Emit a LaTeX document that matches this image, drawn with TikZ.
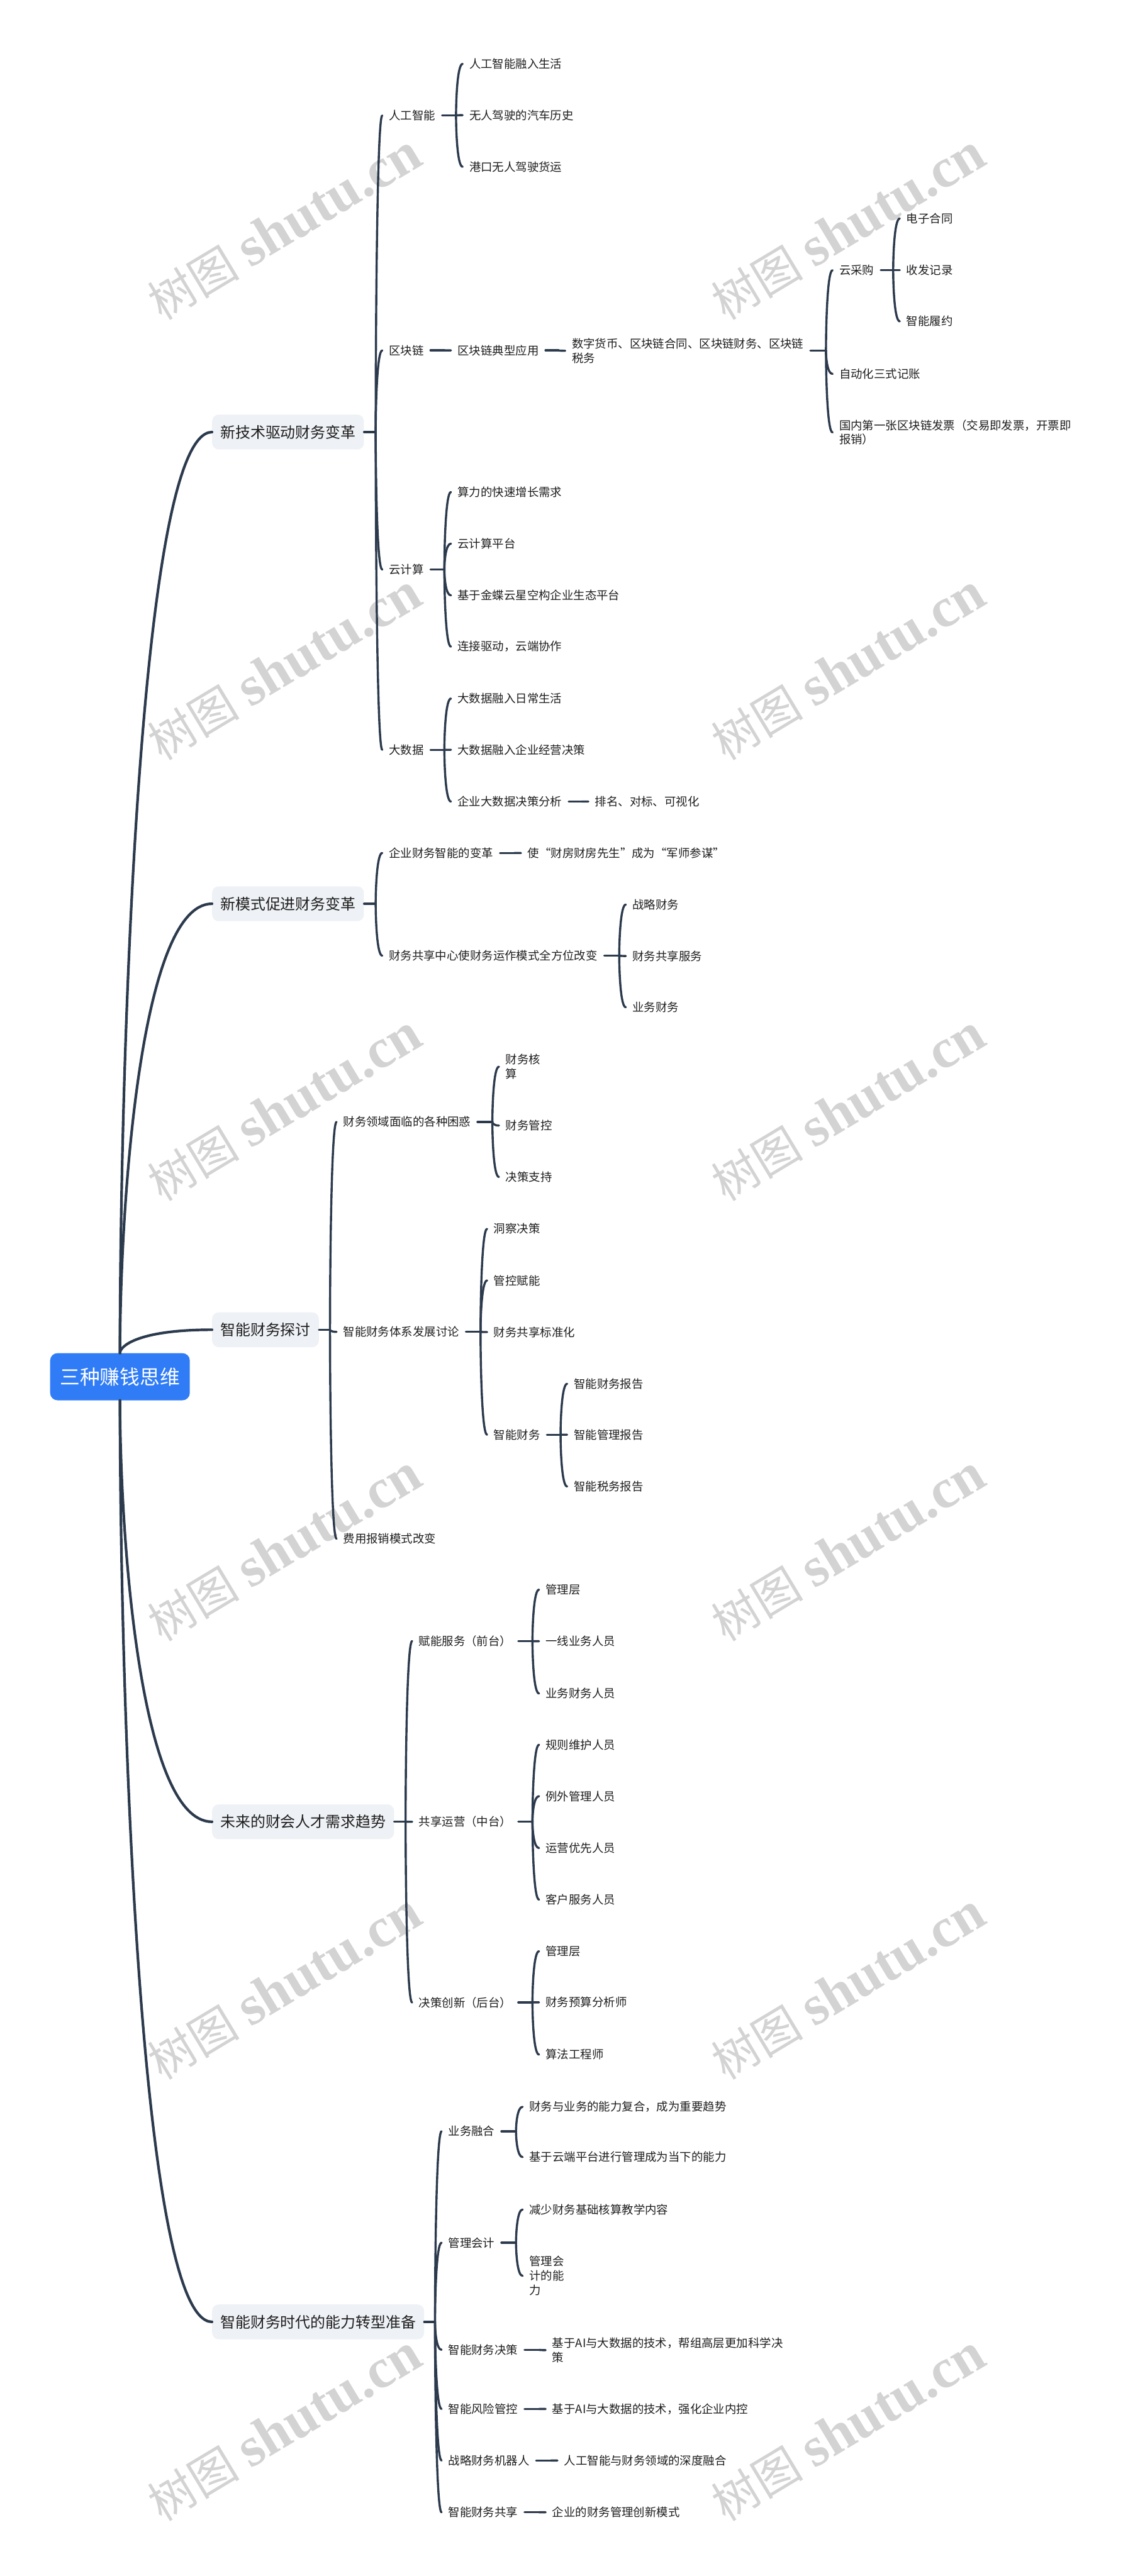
\documentclass[tikz,border=0pt]{standalone}
\usepackage{fontspec}
\setmainfont{Noto Sans CJK SC}
\newfontfamily\wmserif{Liberation Serif}
\usetikzlibrary{calc}
\definecolor{lc}{HTML}{2C3A4D}
\definecolor{rootc}{HTML}{2F7CF6}
\definecolor{boxc}{HTML}{EEF1F5}
\definecolor{txt}{HTML}{1F1F1F}
\definecolor{wm}{HTML}{D3D3D3}

\newcommand{\branch}[3]{%
  \path (#2.west) ++(-4,0) coordinate (#1-a);
  \coordinate (#1-t) at (#1-a |- #1.east);
  \draw[con] (#1.east) -- (#1-t);
  \foreach \kk in {#3}{%
    \coordinate (#1-k) at (#1-t |- \kk.west);
    \draw[con] (#1-t) .. controls ($(#1-t)!0.3!(#1-k)$) and ($(#1-k)!0.2!(\kk.west)$) .. (\kk.west);
  }%
}
\newcommand{\rootcurve}[2]{%
  \coordinate (#2-k) at (#1 |- #2.west);
  \draw[mcon] (#1) .. controls ($(#1)!0.3!(#2-k)$) and ($(#2-k)!0.2!(#2.west)$) .. (#2.west);
}
\newcommand{\wmk}[3]{%
  \begin{scope}[shift={(#1,#2)}, rotate=31, transform shape]
    \foreach \ch/\px [count=\j] in {树/0,图/28}{
      \node[wglyph, font=\fontsize{56}{56}\selectfont] (w#3c\j) at (\px-93.35,10) {\ch};
    }
    \foreach \ch/\px [count=\j] in {s/63,h/76.2,u/95.1,t/114,u/125.3,./144.2,c/152.7,n/167.8}{
      \node[wglyph, font=\wmserif\bfseries\fontsize{68}{68}\selectfont] (w#3l\j) at (\px-93.35,10) {\ch};
    }
  \end{scope}}

\begin{document}
\begin{tikzpicture}[x=2pt,y=-2pt,
  leaf/.style={anchor=west, inner xsep=8pt, inner ysep=3pt, font=\fontsize{14.1}{17.5}\selectfont, text=txt, align=left},
  lone/.style={anchor=west, fill=boxc, rounded corners=8pt, inner xsep=10pt, minimum height=42.4pt, font=\fontsize{18.3}{22}\selectfont, text=txt},
  rootbox/.style={fill=rootc, rounded corners=9pt, text=white, minimum width=170pt, minimum height=57.4pt, font=\fontsize{24.3}{28}\selectfont},
  con/.style={draw=lc, line width=2.6pt, line cap=round},
  mcon/.style={draw=lc, line width=3.2pt, line cap=round},
  wglyph/.style={anchor=base west, inner sep=0pt, text=wm}
]
\fill[white] (0,0) rectangle (686.2,1568);
\useasboundingbox (0,0) rectangle (686.2,1568);

% watermarks
\wmk{173.3}{139}{La}
\wmk{516.5}{139}{Ra}
\wmk{173.3}{406.7}{Lb}
\wmk{516.5}{406.7}{Rb}
\wmk{173.3}{675}{Lc}
\wmk{516.5}{675}{Rc}
\wmk{173.3}{943}{Ld}
\wmk{516.5}{943}{Rd}
\wmk{173.3}{1210}{Le}
\wmk{516.5}{1210}{Re}
\wmk{173.3}{1478.5}{Lf}
\wmk{516.5}{1478.5}{Rf}

% root
\node[rootbox] (root) at (73,838) {三种赚钱思维};

% level 1
\node[lone] (b1) at (129,263) {新技术驱动财务变革};
\node[lone] (b2) at (129,550.1) {新模式促进财务变革};
\node[lone] (b3) at (129,809.4) {智能财务探讨};
\node[lone] (b4) at (129,1108.9) {未来的财会人才需求趋势};
\node[lone] (b5) at (129,1413.3) {智能财务时代的能力转型准备};

% B1
\node[leaf] (a1) at (232.6,70.3) {人工智能};
\node[leaf] (a11) at (281.5,38.9) {人工智能融入生活};
\node[leaf] (a12) at (281.5,70.1) {无人驾驶的汽车历史};
\node[leaf] (a13) at (281.5,101.5) {港口无人驾驶货运};
\node[leaf] (a2) at (232.6,213.3) {区块链};
\node[leaf] (a21) at (274.4,213.3) {区块链典型应用};
\node[leaf] (a211) at (343.9,213.5) {数字货币、区块链合同、区块链财务、区块链\\税务};
\node[leaf] (a2111) at (506.6,164.5) {云采购};
\node[leaf] (c1) at (547.5,133.0) {电子合同};
\node[leaf] (c2) at (547.5,164.5) {收发记录};
\node[leaf] (c3) at (547.5,195.6) {智能履约};
\node[leaf] (a2112) at (506.6,227.6) {自动化三式记账};
\node[leaf] (a2113) at (506.6,263.2) {国内第一张区块链发票（交易即发票，开票即\\报销）};
\node[leaf] (a3) at (232.6,346.7) {云计算};
\node[leaf] (a31) at (274.4,299.5) {算力的快速增长需求};
\node[leaf] (a32) at (274.4,330.9) {云计算平台};
\node[leaf] (a33) at (274.4,362.4) {基于金蝶云星空构企业生态平台};
\node[leaf] (a34) at (274.4,393.6) {连接驱动，云端协作};
\node[leaf] (a4) at (232.6,456.4) {大数据};
\node[leaf] (a41) at (274.4,425.2) {大数据融入日常生活};
\node[leaf] (a42) at (274.4,456.4) {大数据融入企业经营决策};
\node[leaf] (a43) at (274.4,487.9) {企业大数据决策分析};
\node[leaf] (a431) at (358,487.9) {排名、对标、可视化};

% B2
\node[leaf] (d1) at (232.6,519.2) {企业财务智能的变革};
\node[leaf] (d11) at (317,519.2) {使“财房财房先生”成为“军师参谋”};
\node[leaf] (d2) at (232.6,581.7) {财务共享中心使财务运作模式全方位改变};
\node[leaf] (d21) at (380.8,550.6) {战略财务};
\node[leaf] (d22) at (380.8,581.9) {财务共享服务};
\node[leaf] (d23) at (380.8,613.1) {业务财务};

% B3
\node[leaf] (e1) at (204.8,682.9) {财务领域面临的各种困惑};
\node[leaf] (e11) at (303.6,649.3) {财务核\\算};
\node[leaf] (e12) at (303.6,685.1) {财务管控};
\node[leaf] (e13) at (303.6,716.4) {决策支持};
\node[leaf] (e2) at (204.8,810.7) {智能财务体系发展讨论};
\node[leaf] (e21) at (296.4,748.0) {洞察决策};
\node[leaf] (e22) at (296.4,779.4) {管控赋能};
\node[leaf] (e23) at (296.4,810.8) {财务共享标准化};
\node[leaf] (e24) at (296.4,873.3) {智能财务};
\node[leaf] (e241) at (345.1,842.3) {智能财务报告};
\node[leaf] (e242) at (345.1,873.3) {智能管理报告};
\node[leaf] (e243) at (345.1,904.8) {智能税务报告};
\node[leaf] (e3) at (204.8,936.6) {费用报销模式改变};

% B4
\node[leaf] (f1) at (250.8,998.9) {赋能服务（前台）};
\node[leaf] (f11) at (328,967.6) {管理层};
\node[leaf] (f12) at (328,999) {一线业务人员};
\node[leaf] (f13) at (328,1030.8) {业务财务人员};
\node[leaf] (f2) at (250.8,1108.9) {共享运营（中台）};
\node[leaf] (f21) at (328,1062) {规则维护人员};
\node[leaf] (f22) at (328,1093.3) {例外管理人员};
\node[leaf] (f23) at (328,1124.9) {运营优先人员};
\node[leaf] (f24) at (328,1156.3) {客户服务人员};
\node[leaf] (f3) at (250.8,1218.9) {决策创新（后台）};
\node[leaf] (f31) at (328,1187.7) {管理层};
\node[leaf] (f32) at (328,1218.8) {财务预算分析师};
\node[leaf] (f33) at (328,1250.6) {算法工程师};

% B5
\node[leaf] (g1) at (268.7,1297.3) {业务融合};
\node[leaf] (g11) at (318,1282.4) {财务与业务的能力复合，成为重要趋势};
\node[leaf] (g12) at (318,1313) {基于云端平台进行管理成为当下的能力};
\node[leaf] (g2) at (268.7,1365.1) {管理会计};
\node[leaf] (g21) at (318,1344.9) {减少财务基础核算教学内容};
\node[leaf] (g22) at (318,1385.3) {管理会\\计的能\\力};
\node[leaf] (g3) at (268.7,1430.3) {智能财务决策};
\node[leaf] (g31) at (332,1430.5) {基于AI与大数据的技术，帮组高层更加科学决\\策};
\node[leaf] (g4) at (268.7,1466.3) {智能风险管控};
\node[leaf] (g41) at (332,1466.3) {基于AI与大数据的技术，强化企业内控};
\node[leaf] (g5) at (268.7,1497.7) {战略财务机器人};
\node[leaf] (g51) at (339.2,1497.7) {人工智能与财务领域的深度融合};
\node[leaf] (g6) at (268.7,1529.2) {智能财务共享};
\node[leaf] (g61) at (332,1529.2) {企业的财务管理创新模式};

% root curves
\rootcurve{root.north}{b1}
\rootcurve{root.north}{b2}
\rootcurve{root.north}{b3}
\rootcurve{root.south}{b4}
\rootcurve{root.south}{b5}

% branches
\branch{b1}{a1}{a1,a2,a3,a4}
\branch{a1}{a11}{a11,a12,a13}
\branch{a2}{a21}{a21}
\branch{a21}{a211}{a211}
\branch{a211}{a2111}{a2111,a2112,a2113}
\branch{a2111}{c1}{c1,c2,c3}
\branch{a3}{a31}{a31,a32,a33,a34}
\branch{a4}{a41}{a41,a42,a43}
\branch{a43}{a431}{a431}

\branch{b2}{d1}{d1,d2}
\branch{d1}{d11}{d11}
\branch{d2}{d21}{d21,d22,d23}

\branch{b3}{e1}{e1,e2,e3}
\branch{e1}{e11}{e11,e12,e13}
\branch{e2}{e21}{e21,e22,e23,e24}
\branch{e24}{e241}{e241,e242,e243}

\branch{b4}{f1}{f1,f2,f3}
\branch{f1}{f11}{f11,f12,f13}
\branch{f2}{f21}{f21,f22,f23,f24}
\branch{f3}{f31}{f31,f32,f33}

\branch{b5}{g1}{g1,g2,g3,g4,g5,g6}
\branch{g1}{g11}{g11,g12}
\branch{g2}{g21}{g21,g22}
\branch{g3}{g31}{g31}
\branch{g4}{g41}{g41}
\branch{g5}{g51}{g51}
\branch{g6}{g61}{g61}
\end{tikzpicture}
\end{document}
